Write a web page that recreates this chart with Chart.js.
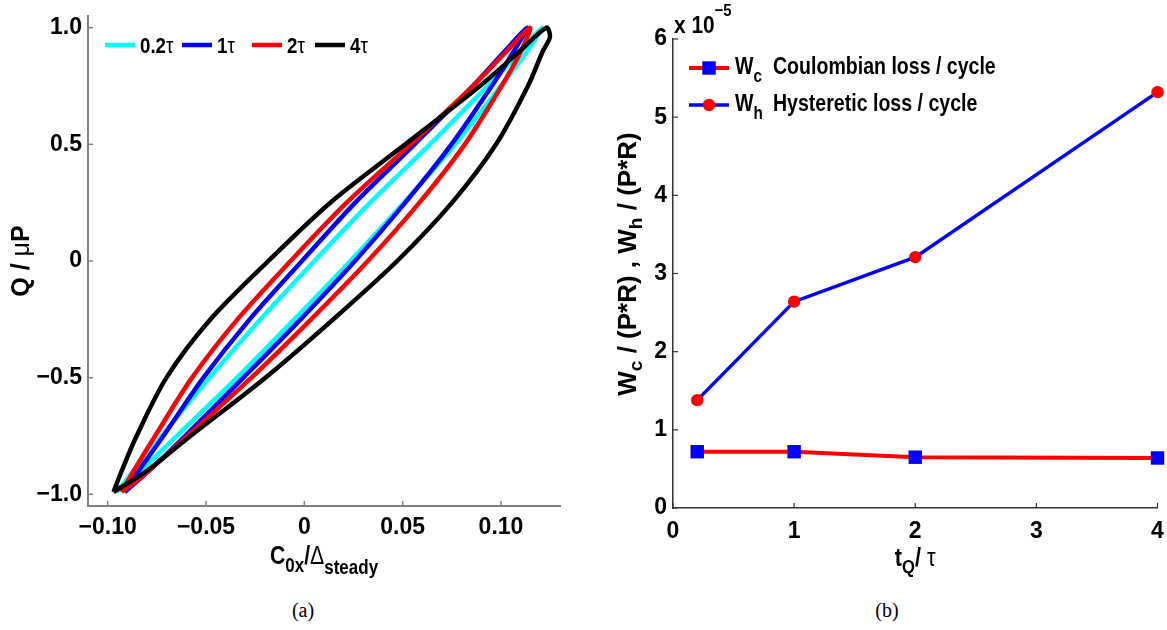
<!DOCTYPE html>
<html>
<head>
<meta charset="utf-8">
<script src="https://cdn.jsdelivr.net/npm/chart.js@4.4.0/dist/chart.umd.min.js"></script>
<style>
  html, body { margin: 0; padding: 0; background: #fff; }
  #wrap { position: relative; width: 1167px; height: 630px; overflow: hidden; }
  #wrap canvas { position: absolute; top: 0; }
  #cvA { left: 0; }
  #cvB { left: 583px; }
  .cap { position: absolute; top: 599px; width: 60px; text-align: center;
         font: 20px 'Liberation Serif', 'Times New Roman', serif; color: #000; }
</style>
</head>
<body>
<div id="wrap">
  <canvas id="cvA" width="583" height="590"></canvas>
  <canvas id="cvB" width="584" height="590"></canvas>
  <div class="cap" style="left:273px">(a)</div>
  <div class="cap" style="left:857px">(b)</div>
</div>
<script>
const FONT = "'Liberation Sans', Arial, sans-serif";

// ---- (a) Q / muP against C0x / Delta_steady, one closed loop per loading time ----
const loopLabels = ['0.2τ', '1τ', '2τ', '4τ'];
const loopColors = ['#00ffff', '#0000ff', '#ff0000', '#000000'];

// loops start at the lower tip, run up the right branch and come back down the left one
const loopY   = [-0.99, -0.90, -0.75, -0.50, -0.25, 0, 0.25, 0.50, 0.75, 0.90, 1.00,
                 0.90, 0.75, 0.50, 0.25, 0, -0.25, -0.50, -0.75, -0.90, -0.99];
const loop02X = [-0.0954, -0.0832, -0.0650, -0.0342, -0.0051, 0.0234, 0.0506, 0.0766, 0.0999, 0.1134, 0.1207,
                 0.1102, 0.0931, 0.0638, 0.0334, 0.0051, -0.0223, -0.0482, -0.0726, -0.0868, -0.0954];
const loop1X  = [-0.0914, -0.0792, -0.0606, -0.0310, -0.0019, 0.0257, 0.0513, 0.0748, 0.0953, 0.1066, 0.1132,
                 0.1020, 0.0856, 0.0560, 0.0259, -0.0012, -0.0278, -0.0513, -0.0717, -0.0843, -0.0914];
const loop2X  = [-0.0929, -0.0792, -0.0595, -0.0269, 0.0034, 0.0323, 0.0585, 0.0816, 0.1003, 0.1102, 0.1147,
                 0.1030, 0.0857, 0.0540, 0.0215, -0.0070, -0.0340, -0.0571, -0.0759, -0.0868, -0.0929];
// the 4τ loop has a rounded upper end, so it gets one extra point
const loop4Y  = [-0.99, -0.90, -0.75, -0.50, -0.25, 0, 0.25, 0.50, 0.75, 0.90, 0.96, 1.00,
                 0.90, 0.75, 0.50, 0.25, 0, -0.25, -0.50, -0.75, -0.90, -0.99];
const loop4X  = [-0.0970, -0.0802, -0.0579, -0.0198, 0.0147, 0.0472, 0.0751, 0.0975, 0.1137, 0.1213, 0.1249, 0.1231,
                 0.1096, 0.0893, 0.0513, 0.0132, -0.0183, -0.0477, -0.0701, -0.0853, -0.0929, -0.0970];

const loopXTicks = [-0.10, -0.05, 0, 0.05, 0.10];
const loopXTickText = ['\u22120.10', '\u22120.05', '0', '0.05', '0.10'];
const loopYTicks = [-1, -0.5, 0, 0.5, 1];
const loopYTickText = ['\u22121.0', '\u22120.5', '0', '0.5', '1.0'];

// ---- (b) loss per cycle against t_Q / tau (values in units of 1e-5) ----
const tQ = [0.2, 1, 2, 4];
const wCoulomb = [0.72, 0.72, 0.65, 0.64];
const wHyst = [1.38, 2.64, 3.21, 5.32];
const lossNames = ['Coulombian loss / cycle', 'Hysteretic loss / cycle'];
const lossSubs = ['c', 'h'];
const lossXTicks = [0, 1, 2, 3, 4];
const lossYTicks = [0, 1, 2, 3, 4, 5, 6];

// ---------- helpers ----------
const fontOf = p => `${p.w || 'bold'} ${p.s || 24}px ${FONT}`;

function richWidth(ctx, parts) {
  let w = 0;
  parts.forEach(p => { ctx.font = fontOf(p); w += ctx.measureText(p.t).width; });
  return w;
}

// text made of pieces with their own size / weight / vertical shift (sub/superscripts);
// sx squeezes it horizontally to get the narrow Helvetica look
function drawRich(ctx, parts, x, y, align, sx = 1) {
  const w = richWidth(ctx, parts) * sx;
  ctx.save();
  ctx.translate(align === 'center' ? x - w / 2 : x, y);
  ctx.scale(sx, 1);
  let cx = 0;
  parts.forEach(p => {
    ctx.font = fontOf(p);
    ctx.fillText(p.t, cx, p.dy || 0);
    cx += ctx.measureText(p.t).width;
  });
  ctx.restore();
}

const fixedTicks = values => s => { s.ticks = values.map(v => ({ value: v })); };

function axisOpts(min, max, values, text, border, pad, fit) {
  return {
    type: 'linear', min, max,
    afterBuildTicks: fixedTicks(values),
    afterFit: s => {
      fit(s);
      s.paddingLeft = s.paddingRight = s.paddingTop = s.paddingBottom = 0;
    },
    grid: { display: false, drawTicks: false },
    border: { display: true, color: border.color, width: border.width },
    ticks: {
      autoSkip: false, maxRotation: 0, color: '#000', padding: pad,
      font: { family: FONT, size: 23, weight: 'bold' },
      callback: (v, i) => text[i]
    }
  };
}

// Matlab-style ticks pointing into the plot
const innerTicks = {
  id: 'innerTicks',
  beforeDatasetsDraw(chart, args, opts) {
    const ctx = chart.ctx, a = chart.chartArea, { x, y } = chart.scales;
    ctx.save();
    ctx.strokeStyle = opts.color;
    ctx.lineWidth = opts.width;
    x.ticks.forEach(t => {
      const px = x.getPixelForValue(t.value);
      ctx.beginPath(); ctx.moveTo(px, a.bottom); ctx.lineTo(px, a.bottom - opts.len); ctx.stroke();
    });
    y.ticks.forEach(t => {
      const py = y.getPixelForValue(t.value);
      ctx.beginPath(); ctx.moveTo(a.left, py); ctx.lineTo(a.left + opts.len, py); ctx.stroke();
    });
    ctx.restore();
  }
};

// legend row and axis titles of (a)
const panelA = {
  id: 'panelA',
  afterDraw(chart) {
    const ctx = chart.ctx, a = chart.chartArea;
    const lx = [105, 182, 252, 315];
    ctx.save();
    ctx.fillStyle = '#000';
    ctx.textBaseline = 'alphabetic';
    chart.data.datasets.forEach((ds, i) => {
      ctx.strokeStyle = ds.borderColor;
      ctx.lineWidth = 4.5;
      ctx.beginPath(); ctx.moveTo(lx[i], 45); ctx.lineTo(lx[i] + 30, 45); ctx.stroke();
      const num = ds.label.slice(0, -1);
      drawRich(ctx, [{ t: num, s: 22 }, { t: 'τ', s: 22, w: 'normal' }], lx[i] + 35, 53, 'left', 0.85);
    });

    drawRich(ctx, [{ t: 'C', s: 25 }, { t: '0x', s: 20, dy: 8 }, { t: '/', s: 25 }, { t: 'Δ', s: 25, w: 'normal' },
                   { t: 'steady', s: 20, dy: 10 }], (a.left + a.right) / 2, 564, 'center', 0.85);

    ctx.translate(22, (a.top + a.bottom) / 2);
    ctx.rotate(-Math.PI / 2);
    ctx.textBaseline = 'middle';
    drawRich(ctx, [{ t: 'Q / ', s: 25 }, { t: 'μ', s: 25, w: 'normal' }, { t: 'P', s: 25 }], 0, 0, 'center');
    ctx.restore();
  }
};

// legend, exponent and axis titles of (b)
const panelB = {
  id: 'panelB',
  afterDraw(chart) {
    const ctx = chart.ctx, a = chart.chartArea;
    const rows = [68, 105];
    ctx.save();
    ctx.textBaseline = 'alphabetic';
    chart.data.datasets.forEach((ds, i) => {
      const y = rows[i];
      ctx.strokeStyle = ds.borderColor;
      ctx.lineWidth = ds.borderWidth;
      ctx.beginPath(); ctx.moveTo(106, y); ctx.lineTo(146, y); ctx.stroke();
      ctx.fillStyle = ds.pointBackgroundColor;
      ctx.strokeStyle = ds.pointBorderColor;
      Chart.helpers.drawPoint(ctx, { pointStyle: ds.pointStyle, radius: ds.pointRadius, rotation: 0, borderWidth: 0 }, 126, y);
      ctx.fillStyle = '#000';
      drawRich(ctx, [{ t: 'W', s: 23 }, { t: lossSubs[i], s: 18, dy: 8 }], 152, y + 6, 'left', 0.85);
      drawRich(ctx, [{ t: ds.label, s: 23 }], 190, y + 6, 'left', 0.85);
    });

    ctx.fillStyle = '#000';
    drawRich(ctx, [{ t: 'x 10' }, { t: '\u22125', s: 17, dy: -17 }], 91, 33, 'left', 0.87);

    drawRich(ctx, [{ t: 't', s: 25 }, { t: 'Q', s: 19, dy: 7 }, { t: '/ ', s: 25 }, { t: 'τ', s: 25, w: 'normal' }],
             (a.left + a.right) / 2, 566, 'center', 0.87);

    ctx.translate(46, 264);
    ctx.rotate(-Math.PI / 2);
    ctx.textBaseline = 'middle';
    drawRich(ctx, [{ t: 'W', s: 26 }, { t: 'c', s: 19, dy: 8 }, { t: ' / (P*R) , W', s: 26 }, { t: 'h', s: 19, dy: 8 },
                   { t: ' / (P*R)', s: 26 }], 0, 0, 'center');
    ctx.restore();
  }
};

// ---------- (a) ----------
const loopXs = [loop02X, loop1X, loop2X, loop4X];
const loopYs = [loopY, loopY, loopY, loop4Y];

new Chart(document.getElementById('cvA'), {
  type: 'scatter',
  data: {
    datasets: loopXs.map((xs, i) => ({
      label: loopLabels[i],
      data: xs.map((v, k) => ({ x: v, y: loopYs[i][k] })),
      showLine: true,
      borderColor: loopColors[i],
      borderWidth: 4.5,
      pointRadius: 0,
      tension: 0.3,
      fill: false,
      order: 3 - i
    }))
  },
  options: {
    responsive: false, animation: false, devicePixelRatio: 1,
    layout: { padding: { top: 16, right: 23, left: 0, bottom: 0 } },
    plugins: {
      legend: { display: false }, tooltip: { enabled: false },
      innerTicks: { color: '#808080', width: 1.5, len: 5 }
    },
    scales: {
      x: axisOpts(-0.11, 0.13, loopXTicks, loopXTickText, { color: '#808080', width: 2 }, 8,
                  s => { s.height = 84; }),
      y: axisOpts(-1.05, 1.05, loopYTicks, loopYTickText, { color: '#808080', width: 2 }, 6,
                  s => { s.width = 88; })
    }
  },
  plugins: [innerTicks, panelA]
});

// ---------- (b) ----------
new Chart(document.getElementById('cvB'), {
  type: 'line',
  data: {
    datasets: [
      {
        label: lossNames[0],
        data: tQ.map((t, i) => ({ x: t, y: wCoulomb[i] })),
        borderColor: '#ff0000', borderWidth: 4,
        pointStyle: 'rect', pointRadius: 9.5,
        pointBackgroundColor: '#0000ff', pointBorderColor: '#0000ff', pointBorderWidth: 0,
        tension: 0, clip: false
      },
      {
        label: lossNames[1],
        data: tQ.map((t, i) => ({ x: t, y: wHyst[i] })),
        borderColor: '#0000ff', borderWidth: 3.5,
        pointStyle: 'circle', pointRadius: 6.2,
        pointBackgroundColor: '#ff0000', pointBorderColor: '#ff0000', pointBorderWidth: 0,
        tension: 0, clip: false
      }
    ]
  },
  options: {
    responsive: false, animation: false, devicePixelRatio: 1,
    layout: { padding: { top: 39, right: 8, left: 0, bottom: 0 } },
    plugins: {
      legend: { display: false }, tooltip: { enabled: false },
      innerTicks: { color: '#333333', width: 1.2, len: 5 }
    },
    scales: {
      x: axisOpts(0, 4, lossXTicks, lossXTicks.map(String), { color: '#333333', width: 1.5 }, 10,
                  s => { s.height = 82; }),
      y: axisOpts(0, 6, lossYTicks, lossYTicks.map(String), { color: '#333333', width: 1.5 }, 6,
                  s => { s.width = 90; })
    }
  },
  plugins: [innerTicks, panelB]
});
</script>
</body>
</html>
